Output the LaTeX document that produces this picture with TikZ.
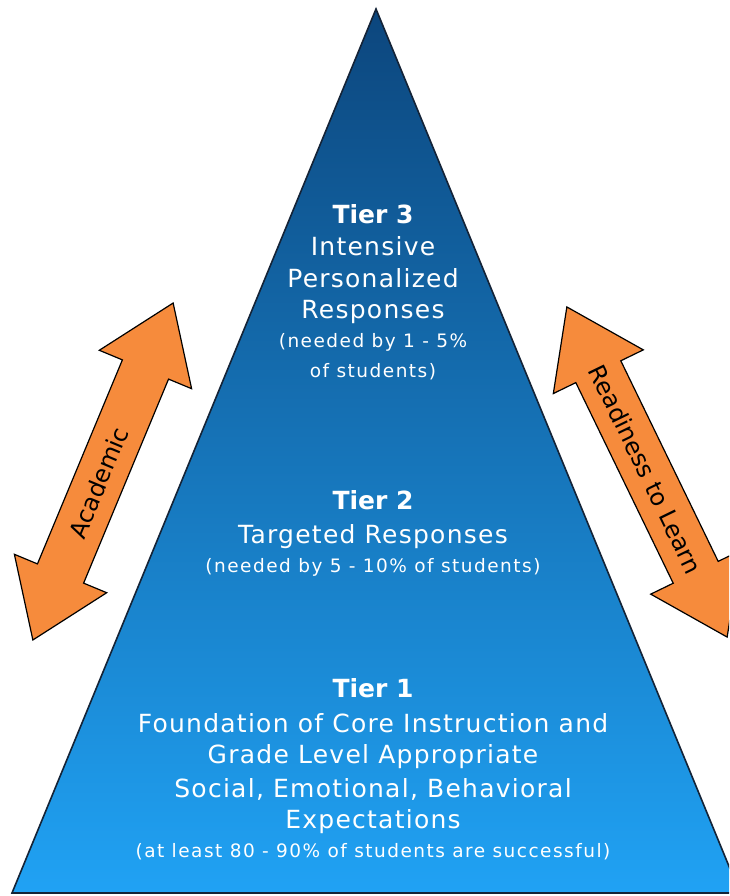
\documentclass[tikz,border=0pt]{standalone}
\usepackage{fontspec}
\setmainfont{DejaVu Sans}
\newfontfamily\tierfont{DejaVu Sans}[LetterSpace=5]
\newfontfamily\smallfont{DejaVu Sans}[LetterSpace=8]
\newfontfamily\arrowfont{DejaVu Sans}
\definecolor{pyrtop}{RGB}{12,70,125}
\definecolor{pyrbot}{RGB}{32,162,244}
\definecolor{pyredge}{RGB}{20,35,55}
\definecolor{arrorange}{RGB}{246,139,60}
\tikzset{
  headline/.style={text=white, anchor=base, inner sep=0pt, font=\bfseries\fontsize{25}{30}\selectfont},
  bigline/.style={text=white, anchor=base, inner sep=0pt, font=\tierfont\fontsize{25}{30}\selectfont},
  smallline/.style={text=white, anchor=base, inner sep=0pt, font=\smallfont\fontsize{18.5}{22}\selectfont},
  arrowshape/.style={fill=arrorange, draw=black, line width=1.2pt, line join=miter},
  arrowtext/.style={text=black, inner sep=0pt, font=\arrowfont\fontsize{24}{28}\selectfont}
}
\begin{document}
\begin{tikzpicture}[x=1pt,y=-1pt]
\useasboundingbox (0,0) rectangle (729,896);
\clip (0,0) rectangle (729,896);
\fill[white] (0,0) rectangle (729,896);
% pyramid
\shade[top color=pyrtop, bottom color=pyrbot] (376,9) -- (12,893) -- (740,893) -- cycle;
\draw[pyredge, line width=1.6pt, line join=miter] (376,9) -- (12,893) -- (740,893) -- cycle;
% left arrow
\begin{scope}[shift={(103,471.5)}, rotate=67.4]
  \draw[arrowshape] (182.5,0) -- (110.5,50) -- (110.5,25) -- (-110.5,25) -- (-110.5,50) -- (-182.5,0)
     -- (-110.5,-50) -- (-110.5,-25) -- (110.5,-25) -- (110.5,-50) -- cycle;
  \node[arrowtext, rotate=67.4] (academic) at (-12,0) {Academic};
\end{scope}
% right arrow
\begin{scope}[shift={(647,472)}, rotate=-64.1]
  \draw[arrowshape] (183.5,0) -- (111.5,50) -- (111.5,25) -- (-111.5,25) -- (-111.5,50) -- (-183.5,0)
     -- (-111.5,-50) -- (-111.5,-25) -- (111.5,-25) -- (111.5,-50) -- cycle;
  \node[arrowtext, rotate=-64.1] (readiness) at (-3,0) {Readiness to Learn};
\end{scope}
% Tier 3
\node[headline] (t3h) at (373,223) {Tier 3};
\node[bigline] (t3a) at (373,255) {Intensive};
\node[bigline] (t3b) at (373,287) {Personalized};
\node[bigline] (t3c) at (373,318) {Responses};
\node[smallline] (t3d) at (373,347) {(needed by 1 - 5\%};
\node[smallline] (t3e) at (373,377) {of students)};
% Tier 2
\node[headline] (t2h) at (373,509) {Tier 2};
\node[bigline] (t2a) at (373,543) {Targeted Responses};
\node[smallline] (t2b) at (373,572) {(needed by 5 - 10\% of students)};
% Tier 1
\node[headline] (t1h) at (373,697) {Tier 1};
\node[bigline] (t1a) at (373,732) {Foundation of Core Instruction and};
\node[bigline] (t1b) at (373,763) {Grade Level Appropriate};
\node[bigline] (t1c) at (373,797) {Social, Emotional, Behavioral};
\node[bigline] (t1d) at (373,828) {Expectations};
\node[smallline] (t1e) at (373,857) {(at least 80 - 90\% of students are successful)};
\end{tikzpicture}
\end{document}
